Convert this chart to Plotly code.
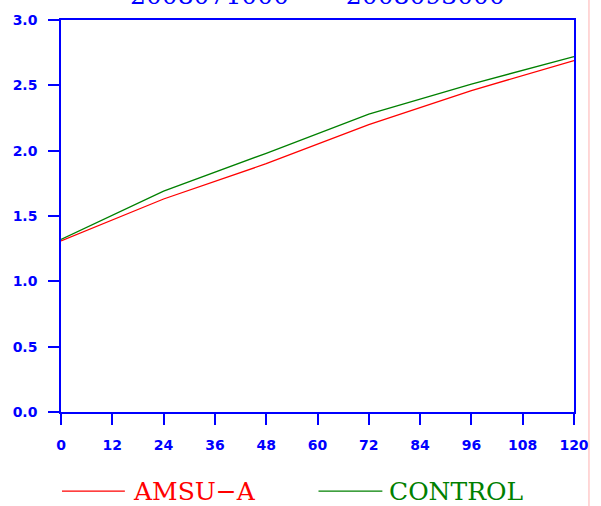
import plotly.graph_objects as go

hours = [0, 24, 48, 72, 96, 120]
amsu_a = [1.31, 1.63, 1.90, 2.20, 2.46, 2.69]
control = [1.32, 1.69, 1.98, 2.28, 2.51, 2.72]
x_ticks = [0, 12, 24, 36, 48, 60, 72, 84, 96, 108, 120]
y_ticks = [0.0, 0.5, 1.0, 1.5, 2.0, 2.5, 3.0]
title_text = "2008071000  \u2014  2008093000"

BLUE = "#0000ff"
RED = "#ff0000"
GREEN = "#008000"

fig = go.Figure()
fig.add_trace(go.Scatter(x=hours, y=amsu_a, mode="lines", name="AMSU\u2212A",
                         line=dict(color=RED, width=1.3), showlegend=False))
fig.add_trace(go.Scatter(x=hours, y=control, mode="lines", name="CONTROL",
                         line=dict(color=GREEN, width=1.3), showlegend=False))

axis_common = dict(
    showgrid=False, zeroline=False, showline=True, linecolor=BLUE, linewidth=1.5,
    mirror=True, ticks="outside", tickcolor=BLUE, tickwidth=1.5, ticklen=11,
    tickfont=dict(family="DejaVu Sans", size=14, color=BLUE, weight="bold"),
)

fig.update_layout(
    width=601, height=506,
    margin=dict(l=61, r=26, t=16, b=94),
    paper_bgcolor="white", plot_bgcolor="white",
    xaxis=dict(range=[0, 120], tickvals=x_ticks, ticktext=[str(v) for v in x_ticks], **axis_common),
    yaxis=dict(range=[0, 3], tickvals=y_ticks, ticktext=[f"{v:.1f}" for v in y_ticks], **axis_common),
)
fig.update_xaxes(ticklabelstandoff=8)
fig.update_yaxes(ticklabelstandoff=8)

# title (partially cut off at top, as in the reference)
fig.add_annotation(text=title_text, xref="paper", yref="paper", x=(318 - 61) / 514, y=(412 + 9) / 396,
                   showarrow=False, yanchor="middle", xanchor="center",
                   font=dict(family="DejaVu Serif", size=25, color=BLUE))

# custom legend below plot
ly = (412 - 492) / 396
fig.add_shape(type="line", xref="paper", yref="paper", x0=(62 - 61) / 514, x1=(125 - 61) / 514, y0=ly, y1=ly,
              line=dict(color=RED, width=1.3))
fig.add_annotation(text="AMSU\u2212A", xref="paper", yref="paper", x=(131 - 61) / 514, y=ly,
                   xanchor="left", yanchor="middle", showarrow=False,
                   font=dict(family="DejaVu Serif", size=25, color=RED))
fig.add_shape(type="line", xref="paper", yref="paper", x0=(319 - 61) / 514, x1=(383 - 61) / 514, y0=ly, y1=ly,
              line=dict(color=GREEN, width=1.3))
fig.add_annotation(text="CONTROL", xref="paper", yref="paper", x=(388 - 61) / 514, y=ly,
                   xanchor="left", yanchor="middle", showarrow=False,
                   font=dict(family="DejaVu Serif", size=25, color=GREEN))

# faint vertical line at right edge
fig.add_shape(type="line", xref="paper", yref="paper", x0=(590 - 61) / 514, x1=(590 - 61) / 514,
              y0=-0.3, y1=1.1, line=dict(color="#ffb0b0", width=1))

fig.write_html("out.html", config={"displayModeBar": False},
               post_script="document.body.style.margin='0';")
